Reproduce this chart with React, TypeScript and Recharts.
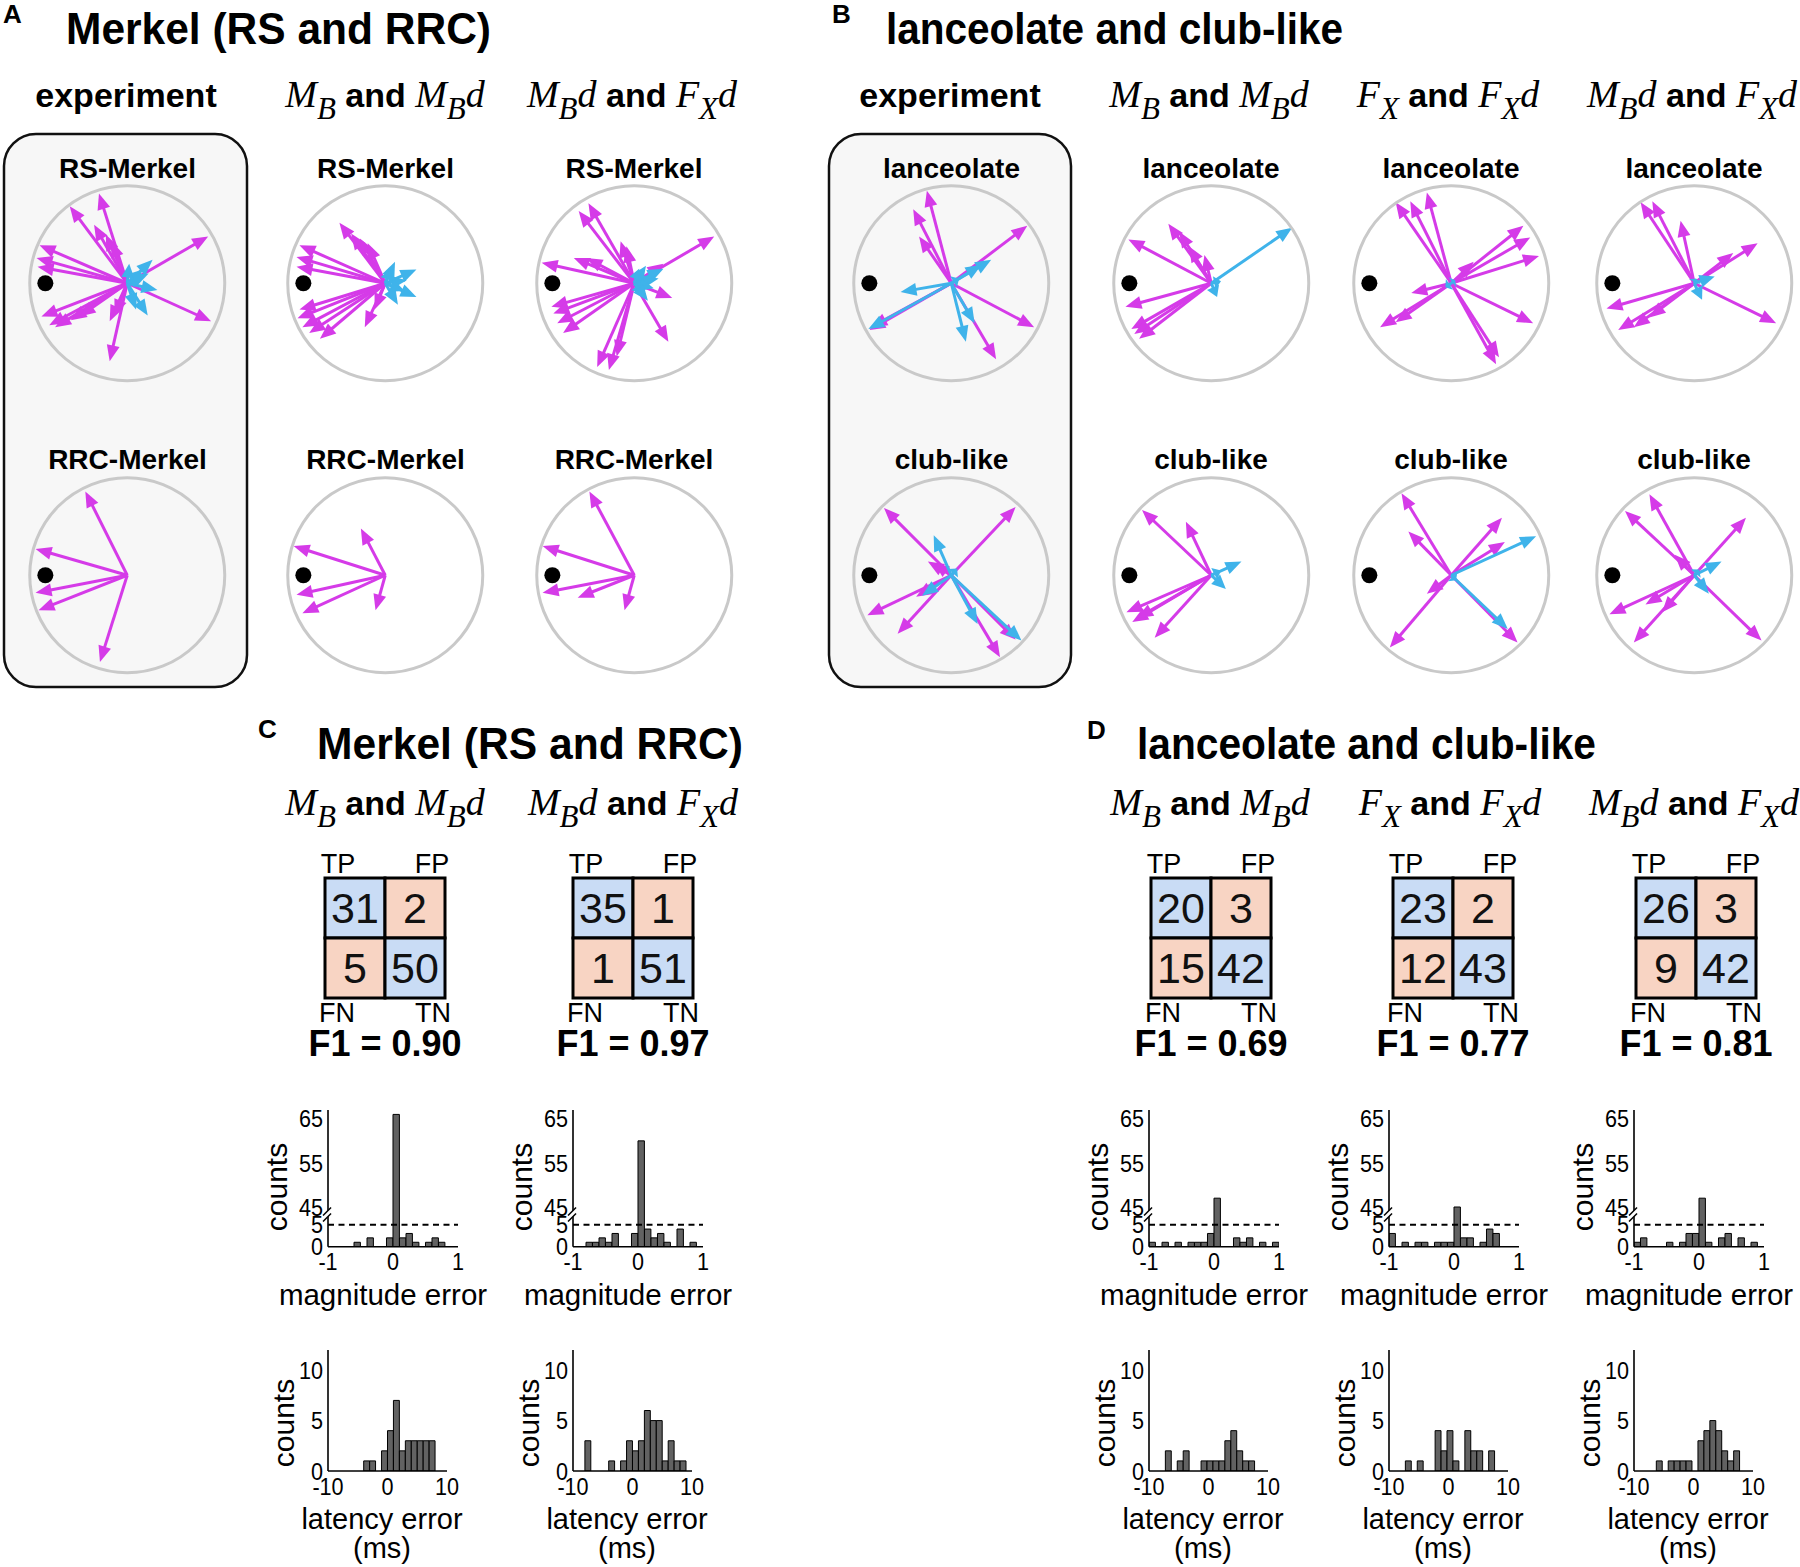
import React from "react";
import {
  Bar,
  BarChart,
  ReferenceDot,
  ReferenceLine,
  Scatter,
  ScatterChart,
  XAxis,
  YAxis,
} from "recharts";

// ---------- data ----------

// arrow tips, in units of the circle radius (x right, y up), origin at centre
const rsExpMagenta = [[-0.29, 0.92], [-0.59, 0.79], [-0.34, 0.6], [-0.22, 0.5], [-0.16, 0.43], [0.83, 0.48], [-0.9, 0.39], [-0.93, 0.26], [-0.92, 0.17], [0.86, -0.39], [-0.88, -0.34], [-0.8, -0.43], [-0.74, -0.45], [-0.58, -0.38], [-0.49, -0.34], [-0.18, -0.8], [-0.18, -0.39], [-0.13, -0.33]];
const rsExpCyan = [[0.02, 0.2], [0.26, 0.24], [0.16, 0.14], [0.31, -0.07], [0.21, -0.33], [0.09, -0.27], [0.13, 0.06], [0.22, 0.1]];
const rsMbMagenta = [[-0.47, 0.62], [-0.35, 0.51], [-0.26, 0.46], [-0.18, 0.41], [-0.88, 0.39], [-0.91, 0.27], [-0.91, 0.17], [-0.88, -0.27], [-0.9, -0.36], [-0.85, -0.45], [-0.78, -0.51], [-0.67, -0.57], [-0.21, -0.45], [-0.11, -0.27]];
const rsMbCyan = [[0.1, 0.22], [0.32, 0.14], [0.32, -0.14], [0.13, -0.22], [0.22, 0.03], [0.05, 0.14], [0.2, -0.08]];
const rsMbFxMagenta = [[-0.47, 0.82], [-0.57, 0.74], [-0.14, 0.43], [-0.08, 0.38], [0.82, 0.48], [-0.95, 0.21], [-0.62, 0.26], [-0.49, 0.26], [-0.85, -0.24], [-0.83, -0.31], [-0.79, -0.41], [-0.73, -0.51], [-0.38, -0.86], [-0.26, -0.89], [-0.18, -0.75], [0.35, -0.6], [0.39, -0.15], [0.3, 0.2]];
const rsMbFxCyan = [[0.3, 0.15], [0.25, 0.05], [0.12, 0.18], [0.08, -0.1], [0.2, -0.05], [0.05, 0.15], [0.14, -0.18]];
const rrcExpMagenta = [[-0.43, 0.86], [-0.94, 0.27], [-0.94, -0.18], [-0.91, -0.36], [-0.28, -0.89]];
const rrcMbMagenta = [[-0.25, 0.48], [-0.94, 0.3], [-0.91, -0.2], [-0.85, -0.39], [-0.1, -0.36]];
const rrcMbFxMagenta = [[-0.46, 0.86], [-0.94, 0.3], [-0.94, -0.18], [-0.58, -0.23], [-0.1, -0.36]];

const lanExpMagenta = [[-0.25, 0.95], [-0.39, 0.76], [-0.33, 0.48], [0.78, 0.59], [0.85, -0.45], [0.46, -0.78], [-0.84, -0.48], [-0.82, -0.45]];
const lanExpCyan = [[-0.52, -0.09], [0.41, 0.24], [0.31, 0.19], [0.15, -0.6], [0.24, -0.41], [-0.85, -0.47], [0.08, 0.05]];
const lanMbMagenta = [[-0.85, 0.45], [-0.44, 0.61], [-0.33, 0.53], [-0.23, 0.38], [-0.07, 0.29], [-0.88, -0.24], [-0.82, -0.47], [-0.79, -0.52], [-0.74, -0.57]];
const lanMbCyan = [[0.83, 0.57], [0.06, -0.14], [0.1, 0.02]];
const lanFxMagenta = [[-0.57, 0.83], [-0.42, 0.84], [-0.25, 0.93], [0.74, 0.59], [0.81, 0.47], [0.9, 0.28], [0.84, -0.41], [0.49, -0.76], [0.46, -0.83], [-0.73, -0.45], [-0.57, -0.4], [-0.41, -0.1], [0.23, 0.22]];
const lanFxCyan = [[-0.06, -0.04], [0.04, 0.03]];
const lanMbFxMagenta = [[-0.55, 0.83], [-0.43, 0.84], [-0.14, 0.64], [0.65, 0.41], [0.4, 0.31], [0.84, -0.41], [-0.9, -0.26], [-0.78, -0.48], [-0.62, -0.45], [-0.46, -0.35]];
const lanMbFxCyan = [[0.21, 0.07], [0.08, -0.17], [0.02, 0.05]];
const clubExpMagenta = [[-0.69, 0.69], [0.66, 0.7], [-0.24, 0.14], [-0.17, 0.12], [-0.86, -0.41], [-0.55, -0.6], [0.5, -0.84], [0.66, -0.66], [-0.36, -0.22]];
const clubExpCyan = [[-0.18, 0.41], [0.27, -0.5], [0.72, -0.67], [-0.3, -0.21], [0.06, 0.07]];
const clubMbMagenta = [[-0.71, 0.67], [-0.26, 0.55], [-0.87, -0.38], [-0.81, -0.48], [-0.76, -0.44], [-0.58, -0.64]];
const clubMbCyan = [[0.31, 0.14], [0.15, -0.14], [0.1, 0.05]];
const clubFxMagenta = [[-0.51, 0.84], [-0.44, 0.45], [0.52, 0.59], [0.55, 0.34], [-0.63, -0.74], [-0.25, -0.19], [0.68, -0.69]];
const clubFxCyan = [[0.87, 0.4], [0.58, -0.55], [0.05, -0.05]];
const clubMbFxMagenta = [[-0.46, 0.83], [-0.71, 0.66], [0.53, 0.59], [-0.2, 0.21], [-0.87, -0.4], [-0.62, -0.69], [-0.33, -0.38], [-0.5, -0.3], [0.69, -0.67]];
const clubMbFxCyan = [[0.28, 0.14], [0.15, -0.19], [0.05, 0.06]];

const stimulusDot = [{ x: -0.84, y: 0 }];
const origin = [{ x: 0, y: 0 }];

// confusion matrices: TP, FP, FN, TN
const matrixC = [[31, 2, 5, 50], [35, 1, 1, 51]];
const matrixD = [[20, 3, 15, 42], [23, 2, 12, 43], [26, 3, 9, 42]];
const f1C = ["0.90", "0.97"];
const f1D = ["0.69", "0.77", "0.81"];

// magnitude error histograms (bin centres shared)
const magBins = [-0.95, -0.85, -0.75, -0.65, -0.55, -0.45, -0.35, -0.25, -0.15, -0.05, 0.05, 0.15, 0.25, 0.35, 0.45, 0.55, 0.65, 0.75, 0.85, 0.95];
const magC1 = [0, 0, 0, 0, 1, 0, 2, 0, 0, 2, 66, 2, 3, 1, 0, 1, 2, 1, 0, 0];
const magC2 = [0, 0, 1, 1, 2, 1, 3, 0, 0, 3, 60, 4, 2, 3, 1, 0, 4, 0, 1, 0];
const magD1 = [1, 0, 1, 0, 1, 0, 1, 1, 1, 3, 47, 0, 0, 2, 1, 2, 0, 1, 0, 1];
const magD2 = [3, 0, 1, 0, 1, 1, 0, 1, 1, 1, 45, 2, 2, 0, 1, 4, 3, 0, 0, 0];
const magD3 = [1, 2, 0, 0, 0, 1, 0, 1, 3, 3, 47, 1, 0, 2, 3, 0, 2, 0, 1, 0];
const magTicksX = [-1, 0, 1];
const magTicks = [0, 5, 9, 19, 29];
const magTickLabels = ["0", "5", "45", "55", "65"];
const BREAK_AT = 9; // axis position of the "45" tick
const BREAK_SHIFT = 36; // counts above the break are drawn this much lower

// latency error histograms (ms)
const latC1Bins = [-3.5, -2.5, -0.5, 0.5, 1.5, 2.5, 3.5, 4.5, 5.5, 6.5, 7.5];
const latC1Counts = [1, 1, 2, 4, 7, 2, 3, 3, 3, 3, 3];
const latC2Bins = [-7.5, -3.5, -1.5, -0.5, 0.5, 1.5, 2.5, 3.5, 4.5, 5.5, 6.5, 7.5, 8.5];
const latC2Counts = [3, 1, 1, 3, 2, 3, 6, 5, 5, 1, 3, 1, 1];
const latD1Bins = [-6.75, -4.75, -3.75, -0.75, 0.25, 1.25, 2.25, 3.25, 4.25, 5.25, 6.25, 7.25];
const latD1Counts = [2, 1, 2, 1, 1, 1, 1, 3, 4, 2, 1, 1];
const latD2Bins = [-6.75, -4.75, -1.75, -0.75, 0.25, 1.25, 3.25, 4.25, 5.25, 7.25];
const latD2Counts = [1, 1, 4, 2, 4, 1, 4, 2, 2, 2];
const latD3Bins = [-5.75, -3.75, -2.75, -1.75, -0.75, 1.25, 2.25, 3.25, 4.25, 5.25, 6.25, 7.25];
const latD3Counts = [1, 1, 1, 1, 1, 3, 4, 5, 4, 2, 1, 2];
const latTicksX = [-10, 0, 10];
const latTicksY = [0, 5, 10];

// column headers: i = italic serif, s = italic serif subscript, b = bold sans
const hdrMbMbd = [["M", "i"], ["B", "s"], [" and ", "b"], ["M", "i"], ["B", "s"], ["d", "i"]];
const hdrMbdFxd = [["M", "i"], ["B", "s"], ["d", "i"], [" and ", "b"], ["F", "i"], ["X", "s"], ["d", "i"]];
const hdrFxFxd = [["F", "i"], ["X", "s"], [" and ", "b"], ["F", "i"], ["X", "s"], ["d", "i"]];

// ---------- styling ----------
const SANS = "'Liberation Sans', Arial, Helvetica, sans-serif";
const SERIF = "'Liberation Serif', 'Times New Roman', Times, serif";
const MAGENTA = "#d53be8";
const CYAN = "#3fb3ea";
const BLUE = "#c9dcf5";
const SALMON = "#f8d4c3";
const BAR = "#626262";
const TICK_FONT = 24;
const TICK_SQUEEZE = 0.9; // the figure's tick digits are narrow and tall
const R = 97.5;
const CIRCLE_BOX = R * 2.2;

const colsA = [127.5, 385.5, 634];
const colsB = [951.5, 1211, 1451, 1694];
const rowsY = [283.3, 575];
const histLeftC = [328, 573];
const histLeftD = [1149, 1389, 1634];
const matLeftC = [325, 573];
const matLeftD = [1151, 1393, 1636];
const MAT_TOP = 878;

function arrowShape(color: string) {
  return (p: any) => {
    const x1 = Number(p.x1), y1 = Number(p.y1), x2 = Number(p.x2), y2 = Number(p.y2);
    const dx = x2 - x1, dy = y2 - y1;
    const len = Math.hypot(dx, dy) || 1;
    const ux = dx / len, uy = dy / len;
    const hl = Math.min(16, len * 0.7);
    const hw = 6.5;
    const bx = x2 - ux * hl, by = y2 - uy * hl;
    return (
      <g>
        <line x1={x1} y1={y1} x2={bx + ux * 2} y2={by + uy * 2} stroke={color} strokeWidth={3} />
        <polygon
          points={`${x2},${y2} ${bx - uy * hw},${by + ux * hw} ${bx + uy * hw},${by - ux * hw}`}
          fill={color}
        />
      </g>
    );
  };
}

function ArrowCircle({ cx, cy, magenta, cyan = [] }: { cx: number; cy: number; magenta: number[][]; cyan?: number[][] }) {
  return (
    <div style={{ position: "absolute", left: cx - CIRCLE_BOX / 2, top: cy - CIRCLE_BOX / 2 }}>
      <ScatterChart width={CIRCLE_BOX} height={CIRCLE_BOX} margin={{ top: 0, right: 0, bottom: 0, left: 0 }}>
        <XAxis type="number" dataKey="x" domain={[-1.1, 1.1]} hide />
        <YAxis type="number" dataKey="y" domain={[-1.1, 1.1]} hide />
        <Scatter
          data={origin}
          isAnimationActive={false}
          shape={(p: any) => <circle cx={p.cx} cy={p.cy} r={R} fill="none" stroke="#c9c9c9" strokeWidth={3} />}
        />
        <Scatter
          data={stimulusDot}
          isAnimationActive={false}
          shape={(p: any) => <circle cx={p.cx} cy={p.cy} r={8} fill="#000" />}
        />
        {magenta.map(([u, v], i) => (
          <ReferenceLine key={"m" + i} segment={[{ x: 0, y: 0 }, { x: u, y: v }]} ifOverflow="visible" shape={arrowShape(MAGENTA)} />
        ))}
        {cyan.map(([u, v], i) => (
          <ReferenceLine key={"c" + i} segment={[{ x: 0, y: 0 }, { x: u, y: v }]} ifOverflow="visible" shape={arrowShape(CYAN)} />
        ))}
      </ScatterChart>
    </div>
  );
}

function Matrix({ left, values }: { left: number; values: number[] }) {
  const cells = [
    { x: 0, y: 1, v: values[0], tp: true },
    { x: 1, y: 1, v: values[1], tp: false },
    { x: 0, y: 0, v: values[2], tp: false },
    { x: 1, y: 0, v: values[3], tp: true },
  ];
  return (
    <div style={{ position: "absolute", left: left - 3, top: MAT_TOP - 3 }}>
      <ScatterChart width={126} height={126} margin={{ top: 3, right: 3, bottom: 3, left: 3 }}>
        <XAxis type="number" dataKey="x" domain={[-0.5, 1.5]} hide />
        <YAxis type="number" dataKey="y" domain={[-0.5, 1.5]} hide />
        <Scatter
          data={cells}
          isAnimationActive={false}
          shape={(p: any) => (
            <g>
              <rect x={p.cx - 30} y={p.cy - 30} width={60} height={60} fill={p.payload.tp ? BLUE : SALMON} stroke="#000" strokeWidth={3} />
              <text x={p.cx} y={p.cy + 15} textAnchor="middle" fontFamily={SANS} fontSize={43} fill="#111">
                {p.payload.v}
              </text>
            </g>
          )}
        />
      </ScatterChart>
    </div>
  );
}

const axisLine = { stroke: "#000", strokeWidth: 1.6 };

const xTick = (p: any) => (
  <text
    transform={`translate(${p.x},${p.y}) scale(${TICK_SQUEEZE},1)`}
    dy="0.72em"
    textAnchor="middle"
    fontFamily={SANS}
    fontSize={TICK_FONT}
    fill="#000"
  >
    {p.payload.value}
  </text>
);
const yTick = (labelOf: (v: number) => string) => (p: any) => (
  <text
    transform={`translate(${p.x},${p.y}) scale(${TICK_SQUEEZE},1)`}
    dy="0.36em"
    textAnchor="end"
    fontFamily={SANS}
    fontSize={TICK_FONT}
    fill="#000"
  >
    {labelOf(p.payload.value)}
  </text>
);
const magYTick = yTick((v) => magTickLabels[magTicks.indexOf(v)]);
const latYTick = yTick((v) => String(v));

const breakMark = (p: any) => (
  <g>
    <polygon points={`${p.cx - 5},${p.cy + 1} ${p.cx + 3},${p.cy - 7} ${p.cx + 3},${p.cy - 1} ${p.cx - 5},${p.cy + 7}`} fill="#fff" />
    <line x1={p.cx - 5} y1={p.cy + 1} x2={p.cx + 3} y2={p.cy - 7} stroke="#000" strokeWidth={1.5} />
    <line x1={p.cx - 5} y1={p.cy + 7} x2={p.cx + 3} y2={p.cy - 1} stroke="#000" strokeWidth={1.5} />
  </g>
);

const MAG_W = 130;
const MAG_H = 136.7;
const MAG_TOP = 1110;

function MagHist({ left, counts }: { left: number; counts: number[] }) {
  const data = magBins
    .map((x, i) => ({ x, d: counts[i] > BREAK_AT ? counts[i] - BREAK_SHIFT : counts[i] }))
    .filter((r) => r.d > 0);
  return (
    <div style={{ position: "absolute", left: left - 60, top: MAG_TOP - 8 }}>
      <BarChart width={60 + MAG_W + 14} height={8 + MAG_H + 36} data={data} margin={{ top: 8, right: 14, bottom: 0, left: 0 }} barCategoryGap={0} barGap={0}>
        <XAxis type="number" dataKey="x" domain={[-1, 1]} ticks={magTicksX} interval={0} height={36} axisLine={axisLine} tickLine={false} tickSize={3} tickMargin={3} tick={xTick} allowDataOverflow />
        <YAxis type="number" domain={[0, 31]} ticks={magTicks} interval={0} width={60} axisLine={axisLine} tickLine={false} tickSize={3} tickMargin={2} tick={magYTick} allowDataOverflow />
        <ReferenceLine y={5} stroke="#000" strokeWidth={2} strokeDasharray="6 4.5" />
        <Bar dataKey="d" fill={BAR} stroke="#000" strokeWidth={1} barSize={6.4} isAnimationActive={false} />
        <ReferenceDot x={-1} y={7.3} r={1} ifOverflow="visible" shape={breakMark} />
      </BarChart>
    </div>
  );
}

const LAT_W = 119;
const LAT_H = 121;
const LAT_TOP = 1350;

function LatHist({ left, bins, counts }: { left: number; bins: number[]; counts: number[] }) {
  const data = bins.map((x, i) => ({ x, c: counts[i] }));
  return (
    <div style={{ position: "absolute", left: left - 60, top: LAT_TOP - 8 }}>
      <BarChart width={60 + LAT_W + 22} height={8 + LAT_H + 36} data={data} margin={{ top: 8, right: 22, bottom: 0, left: 0 }} barCategoryGap={0} barGap={0}>
        <XAxis type="number" dataKey="x" domain={[-10, 10]} ticks={latTicksX} interval={0} height={36} axisLine={axisLine} tickLine={false} tickSize={4} tickMargin={3} tick={xTick} allowDataOverflow />
        <YAxis type="number" domain={[0, 12]} ticks={latTicksY} interval={0} width={60} axisLine={axisLine} tickLine={false} tickSize={3} tickMargin={2} tick={latYTick} allowDataOverflow />
        <Bar dataKey="c" fill={BAR} stroke="#000" strokeWidth={1} barSize={5.9} isAnimationActive={false} />
      </BarChart>
    </div>
  );
}

function MathText({ x, y, tokens }: { x: number; y: number; tokens: string[][] }) {
  let shift = 0;
  return (
    <text x={x} y={y} textAnchor="middle" style={{ whiteSpace: "pre" }} fill="#000">
      {tokens.map(([t, k], i) => {
        const target = k === "s" ? 12 : 0;
        const dy = target - shift;
        shift = target;
        if (k === "b") {
          return (
            <tspan key={i} dy={dy} fontFamily={SANS} fontWeight={700} fontSize={34}>
              {t}
            </tspan>
          );
        }
        return (
          <tspan key={i} dy={dy} fontFamily={SERIF} fontStyle="italic" fontSize={k === "s" ? 31 : 38}>
            {t}
          </tspan>
        );
      })}
    </text>
  );
}

function Label({ x, y, children, size = 28, bold = false, anchor = "middle", len }: any) {
  return (
    <text
      x={x}
      y={y}
      textAnchor={anchor}
      fontFamily={SANS}
      fontSize={size}
      fontWeight={bold ? 700 : 400}
      fill="#000"
      textLength={len}
      lengthAdjust={len ? "spacingAndGlyphs" : undefined}
    >
      {children}
    </text>
  );
}

function MatrixLabels({ left, f1 }: { left: number; f1: string }) {
  return (
    <g>
      <Label x={left + 13} y={873} size={27}>TP</Label>
      <Label x={left + 107} y={873} size={27}>FP</Label>
      <Label x={left + 12} y={1022} size={27}>FN</Label>
      <Label x={left + 108} y={1022} size={27}>TN</Label>
      <Label x={left + 60} y={1056} size={36} bold>{"F1 = " + f1}</Label>
    </g>
  );
}

function HistLabels({ left }: { left: number }) {
  return (
    <g>
      <text transform={`translate(${left - 52},1187) rotate(-90)`} textAnchor="middle" dy="0.35em" fontFamily={SANS} fontSize={30} fill="#000">
        counts
      </text>
      <Label x={left + 55} y={1305} size={29.5}>magnitude error</Label>
      <text transform={`translate(${left - 45},1423) rotate(-90)`} textAnchor="middle" dy="0.35em" fontFamily={SANS} fontSize={30} fill="#000">
        counts
      </text>
      <Label x={left + 54} y={1529} size={29}>latency error</Label>
      <Label x={left + 54} y={1558} size={29}>(ms)</Label>
    </g>
  );
}

export default function App() {
  return (
    <div style={{ position: "absolute", left: 0, top: 0, width: 1800, height: 1567, background: "#fff", overflow: "hidden" }}>
      <svg width={1800} height={1567} style={{ position: "absolute", left: 0, top: 0 }}>
        <rect x={4} y={134} width={243} height={553} rx={32} fill="#f7f7f7" stroke="#111" strokeWidth={2.5} />
        <rect x={829} y={134} width={242} height={553} rx={32} fill="#f7f7f7" stroke="#111" strokeWidth={2.5} />
      </svg>

      <ArrowCircle cx={colsA[0]} cy={rowsY[0]} magenta={rsExpMagenta} cyan={rsExpCyan} />
      <ArrowCircle cx={colsA[1]} cy={rowsY[0]} magenta={rsMbMagenta} cyan={rsMbCyan} />
      <ArrowCircle cx={colsA[2]} cy={rowsY[0]} magenta={rsMbFxMagenta} cyan={rsMbFxCyan} />
      <ArrowCircle cx={colsA[0]} cy={rowsY[1]} magenta={rrcExpMagenta} />
      <ArrowCircle cx={colsA[1]} cy={rowsY[1]} magenta={rrcMbMagenta} />
      <ArrowCircle cx={colsA[2]} cy={rowsY[1]} magenta={rrcMbFxMagenta} />

      <ArrowCircle cx={colsB[0]} cy={rowsY[0]} magenta={lanExpMagenta} cyan={lanExpCyan} />
      <ArrowCircle cx={colsB[1]} cy={rowsY[0]} magenta={lanMbMagenta} cyan={lanMbCyan} />
      <ArrowCircle cx={colsB[2]} cy={rowsY[0]} magenta={lanFxMagenta} cyan={lanFxCyan} />
      <ArrowCircle cx={colsB[3]} cy={rowsY[0]} magenta={lanMbFxMagenta} cyan={lanMbFxCyan} />
      <ArrowCircle cx={colsB[0]} cy={rowsY[1]} magenta={clubExpMagenta} cyan={clubExpCyan} />
      <ArrowCircle cx={colsB[1]} cy={rowsY[1]} magenta={clubMbMagenta} cyan={clubMbCyan} />
      <ArrowCircle cx={colsB[2]} cy={rowsY[1]} magenta={clubFxMagenta} cyan={clubFxCyan} />
      <ArrowCircle cx={colsB[3]} cy={rowsY[1]} magenta={clubMbFxMagenta} cyan={clubMbFxCyan} />

      {matrixC.map((m, i) => <Matrix key={"mc" + i} left={matLeftC[i]} values={m} />)}
      {matrixD.map((m, i) => <Matrix key={"md" + i} left={matLeftD[i]} values={m} />)}

      <MagHist left={histLeftC[0]} counts={magC1} />
      <MagHist left={histLeftC[1]} counts={magC2} />
      <MagHist left={histLeftD[0]} counts={magD1} />
      <MagHist left={histLeftD[1]} counts={magD2} />
      <MagHist left={histLeftD[2]} counts={magD3} />

      <LatHist left={histLeftC[0]} bins={latC1Bins} counts={latC1Counts} />
      <LatHist left={histLeftC[1]} bins={latC2Bins} counts={latC2Counts} />
      <LatHist left={histLeftD[0]} bins={latD1Bins} counts={latD1Counts} />
      <LatHist left={histLeftD[1]} bins={latD2Bins} counts={latD2Counts} />
      <LatHist left={histLeftD[2]} bins={latD3Bins} counts={latD3Counts} />

      <svg width={1800} height={1567} style={{ position: "absolute", left: 0, top: 0, pointerEvents: "none" }}>
        <Label x={3} y={23} size={26} bold anchor="start">A</Label>
        <Label x={832} y={23} size={26} bold anchor="start">B</Label>
        <Label x={258} y={738} size={26} bold anchor="start">C</Label>
        <Label x={1087} y={739} size={26} bold anchor="start">D</Label>

        <Label x={66} y={44} size={44} bold anchor="start" len={425}>Merkel (RS and RRC)</Label>
        <Label x={886} y={44} size={44} bold anchor="start" len={457}>lanceolate and club-like</Label>
        <Label x={317} y={759} size={44} bold anchor="start" len={426}>Merkel (RS and RRC)</Label>
        <Label x={1137} y={759} size={44} bold anchor="start" len={459}>lanceolate and club-like</Label>

        <Label x={126} y={107} size={34} bold>experiment</Label>
        <MathText x={385} y={107} tokens={hdrMbMbd} />
        <MathText x={632} y={107} tokens={hdrMbdFxd} />
        <Label x={950} y={107} size={34} bold>experiment</Label>
        <MathText x={1209} y={107} tokens={hdrMbMbd} />
        <MathText x={1448} y={107} tokens={hdrFxFxd} />
        <MathText x={1692} y={107} tokens={hdrMbdFxd} />

        <MathText x={385} y={815} tokens={hdrMbMbd} />
        <MathText x={633} y={815} tokens={hdrMbdFxd} />
        <MathText x={1210} y={815} tokens={hdrMbMbd} />
        <MathText x={1450} y={815} tokens={hdrFxFxd} />
        <MathText x={1694} y={815} tokens={hdrMbdFxd} />

        {colsA.map((x, i) => (
          <g key={"la" + i}>
            <Label x={x} y={178} bold>RS-Merkel</Label>
            <Label x={x} y={469} bold>RRC-Merkel</Label>
          </g>
        ))}
        {colsB.map((x, i) => (
          <g key={"lb" + i}>
            <Label x={x} y={178} bold>lanceolate</Label>
            <Label x={x} y={469} bold>club-like</Label>
          </g>
        ))}

        {matLeftC.map((l, i) => <MatrixLabels key={"ml" + i} left={l} f1={f1C[i]} />)}
        {matLeftD.map((l, i) => <MatrixLabels key={"mld" + i} left={l} f1={f1D[i]} />)}

        {histLeftC.map((l, i) => <HistLabels key={"hc" + i} left={l} />)}
        {histLeftD.map((l, i) => <HistLabels key={"hd" + i} left={l} />)}
      </svg>
    </div>
  );
}
